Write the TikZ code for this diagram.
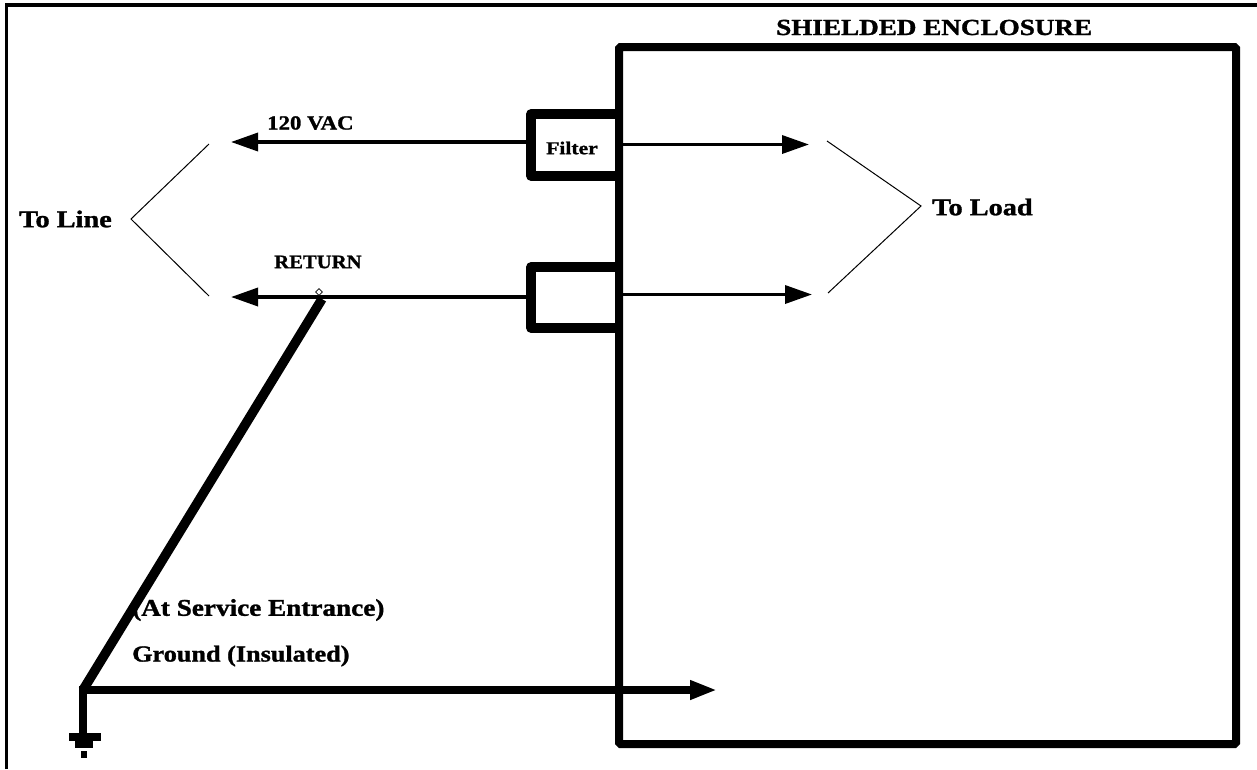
\documentclass[tikz,border=0pt]{standalone}
\usepackage{graphicx}
\usepackage{fontspec}
\setmainfont{Liberation Serif}[BoldFeatures={FakeBold=1.2}]
\usetikzlibrary{arrows.meta,shapes.geometric}
\newcommand\lbtxt[3]{\scalebox{#2}[1]{\bfseries\fontsize{#1}{#1}\selectfont #3}}
\tikzset{
  medium/.style={line width=3.5pt},
  thin line/.style={line width=1pt},
  tip/.style={-{Triangle[length=27pt,width=18pt]}},
  lab/.style={inner sep=0pt,anchor=west}
}
\begin{document}
\begin{tikzpicture}[x=1pt,y=-1pt]
\useasboundingbox (0,0) rectangle (1257,769);
\coordinate (f0) at (6.5,769);
\coordinate (f1) at (6.5,5);
\coordinate (f2) at (1257,5);
\draw[line width=3.5pt] (f0) -- (f1) -- (f2);
% enclosure
\node[draw,line width=8pt,rounded corners=1.5pt,minimum width=617pt,minimum height=697pt,inner sep=0pt,outer sep=0pt,anchor=north west] (encl) at (619,47) {};
% filters
\coordinate (a1) at (619,114);
\coordinate (a2) at (531,114);
\coordinate (a3) at (531,176);
\coordinate (a4) at (619,176);
\draw[line width=9.5pt,line join=round] (a1) -- (a2) -- (a3) -- (a4);
\coordinate (b1) at (619,267);
\coordinate (b2) at (531,267);
\coordinate (b3) at (531,328);
\coordinate (b4) at (619,328);
\draw[line width=9.5pt,line join=round] (b1) -- (b2) -- (b3) -- (b4);
% wires
\coordinate (l1) at (527,142);
\coordinate (l1e) at (231,142);
\coordinate (l2) at (527,297);
\coordinate (l2e) at (231,297);
\draw[medium,tip] (l1) -- (l1e);
\draw[medium,tip] (l2) -- (l2e);
\coordinate (r1) at (623,144.5);
\coordinate (r1e) at (809,144.5);
\coordinate (r2) at (623,294.5);
\coordinate (r2e) at (812,294.5);
\draw[medium,tip] (r1) -- (r1e);
\draw[medium,tip] (r2) -- (r2e);
% brackets
\coordinate (tl1) at (209,144);
\coordinate (tl2) at (131,219);
\coordinate (tl3) at (209,296);
\draw[thin line] (tl1) -- (tl2) -- (tl3);
\coordinate (tr1) at (827,141);
\coordinate (tr2) at (921,206);
\coordinate (tr3) at (828,293);
\draw[thin line] (tr1) -- (tr2) -- (tr3);
% ground
\coordinate (g) at (83,690);
\coordinate (gs) at (83,733);
\coordinate (ge) at (717,690);
\coordinate (d) at (322,299);
\coordinate (gt) at (83,686);
\draw[line width=8pt,tip] (g) -- (ge);
\draw[line width=9.5pt] (d) -- (g);
\draw[line width=7.5pt] (gt) -- (gs);
\fill (69,733) rectangle (101,741);
\fill (75,741) rectangle (93,748);
\fill (81,751) rectangle (87,758);
\node[draw,fill=white,diamond,line width=.6pt,minimum size=7pt,inner sep=0pt] (dia) at (319,292) {};
% labels
\node[lab] (t1) at (776,27.5) {\lbtxt{23}{1.18}{SHIELDED ENCLOSURE}};
\node[lab] (t2) at (267,123) {\lbtxt{20}{1.14}{120 VAC}};
\node[lab] (t3) at (546,148) {\lbtxt{18}{1.2}{Filter}};
\node[lab] (t4) at (274,262) {\lbtxt{19}{1.09}{RETURN}};
\node[lab] (t5) at (19,219) {\lbtxt{24}{1.18}{To Line}};
\node[lab] (t6) at (932,207) {\lbtxt{24}{1.18}{To Load}};
\node[lab] (t7) at (132,610) {\lbtxt{24}{1.133}{(At Service Entrance)}};
\node[lab] (t8) at (132,656) {\lbtxt{23}{1.14}{Ground (Insulated)}};
\end{tikzpicture}
\end{document}
